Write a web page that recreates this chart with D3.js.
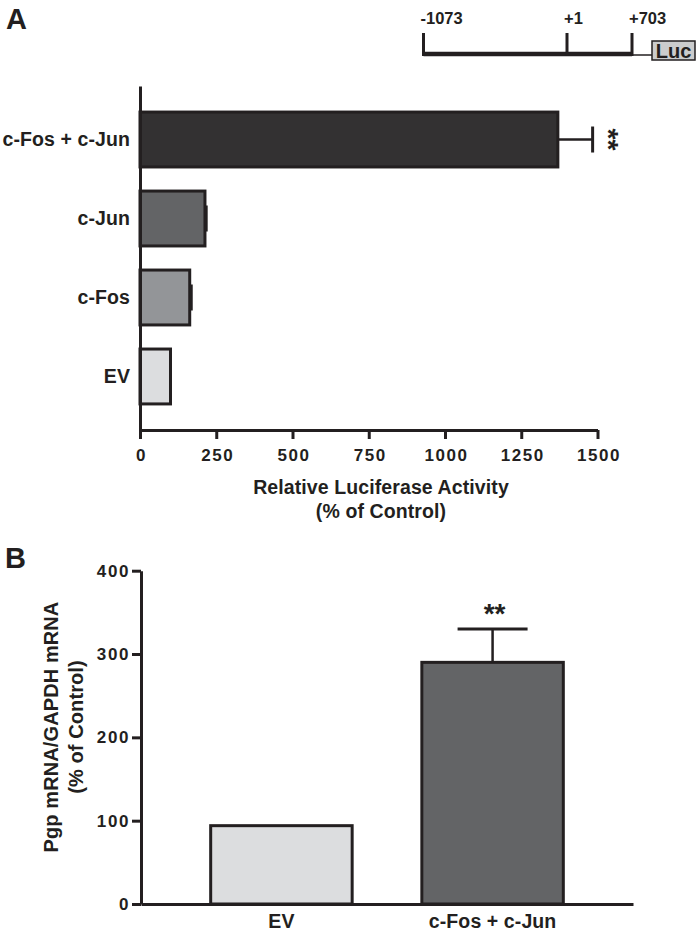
<!DOCTYPE html>
<html>
<head>
<meta charset="utf-8">
<script src="https://cdn.jsdelivr.net/npm/d3@7"></script>
<style>
  body { margin: 0; background: #fff; }
  svg text { font-family: "Liberation Sans", Arial, Helvetica, sans-serif; font-weight: bold; fill: #231f20; }
</style>
</head>
<body>
<div id="chart"></div>
<script>
// panel A data (luciferase)
var catsA = ["c-Fos + c-Jun", "c-Jun", "c-Fos", "EV"];
var valsA = [1370, 213, 163, 100];
var errsA = [114, 4, 5, 0];
var sigA = ["**", "", "", ""];
var ticksA = [0, 250, 500, 750, 1000, 1250, 1500];

// promoter construct
var siteVals = [-1073, 1, 703];
var siteLabels = ["-1073", "+1", "+703"];

// panel B data (mRNA)
var catsB = ["EV", "c-Fos + c-Jun"];
var valsB = [94, 290];
var errsB = [0, 40];
var sigB = ["", "**"];
var ticksB = [0, 100, 200, 300, 400];

var ink = "#231f20";
var fillA = d3.scaleOrdinal().domain(catsA).range(["#333132", "#636466", "#939598", "#dcdddf"]);
var fillB = d3.scaleOrdinal().domain(catsB).range(["#dcdddf", "#636466"]);

var svg = d3.select("#chart").append("svg")
  .attr("width", 697)
  .attr("height", 938);

// ---------- panel A ----------
svg.append("text").attr("x", 6).attr("y", 29).style("font-size", "29px").text("A");

var xA = d3.scaleLinear().domain([0, 1500]).range([140, 597.5]);
var yA = d3.scaleBand().domain(catsA).range([86, 430]).paddingInner(0.305).paddingOuter(0.33);

var gA = svg.append("g");

gA.selectAll("rect.barA")
  .data(catsA)
  .enter().append("rect")
  .attr("class", "barA")
  .attr("x", xA(0))
  .attr("y", d => yA(d))
  .attr("width", (d, i) => xA(valsA[i]) - xA(0))
  .attr("height", yA.bandwidth())
  .attr("fill", d => fillA(d))
  .attr("stroke", ink)
  .attr("stroke-width", 3);

// error bars
catsA.forEach(function(c, i) {
  var cy = yA(c) + yA.bandwidth() / 2;
  if (errsA[i] > 0) {
    gA.append("line")
      .attr("x1", xA(valsA[i])).attr("x2", xA(valsA[i] + errsA[i]))
      .attr("y1", cy).attr("y2", cy)
      .attr("stroke", ink).attr("stroke-width", 2.5);
    gA.append("line")
      .attr("x1", xA(valsA[i] + errsA[i])).attr("x2", xA(valsA[i] + errsA[i]))
      .attr("y1", cy - 13).attr("y2", cy + 13)
      .attr("stroke", ink).attr("stroke-width", 3);
  }
  if (sigA[i]) {
    gA.append("text")
      .attr("transform", `translate(${xA(valsA[i] + errsA[i]) + 21 - 0.52 * 28}, ${cy}) rotate(90)`)
      .attr("text-anchor", "middle")
      .style("font-size", "28px")
      .text(sigA[i]);
  }
});

// axes
var axA = gA.append("g")
  .attr("transform", "translate(0,430)")
  .call(d3.axisBottom(xA).tickValues(ticksA).tickFormat(d3.format("d"))
    .tickSize(9).tickSizeOuter(0).tickPadding(9.5));
axA.selectAll("text").style("font-size", "17px").style("letter-spacing", "1.6px").attr("dx", "1px");

var ayA = gA.append("g")
  .attr("transform", "translate(140,0)")
  .call(d3.axisLeft(yA).tickSize(0).tickSizeOuter(0).tickPadding(10));
ayA.selectAll("text").style("font-size", "19.5px").style("letter-spacing", "0.1px");

[axA, ayA].forEach(function(a) {
  a.selectAll("path, line").attr("stroke", ink).attr("stroke-width", 3);
  a.selectAll("text").attr("fill", ink);
});

gA.append("text").attr("x", 381).attr("y", 494).attr("text-anchor", "middle")
  .style("font-size", "19.5px").style("letter-spacing", "0.1px").text("Relative Luciferase Activity");
gA.append("text").attr("x", 381).attr("y", 518).attr("text-anchor", "middle")
  .style("font-size", "19.5px").style("letter-spacing", "0.1px").text("(% of Control)");

// promoter construct
var pScale = d3.scaleLinear().domain(siteVals).range([423.5, 567, 632]);
var gP = svg.append("g");
gP.append("line")
  .attr("x1", pScale(siteVals[0])).attr("x2", pScale(siteVals[2]))
  .attr("y1", 54).attr("y2", 54)
  .attr("stroke", ink).attr("stroke-width", 4.5);
gP.selectAll("line.site")
  .data(siteVals)
  .enter().append("line")
  .attr("class", "site")
  .attr("x1", d => pScale(d)).attr("x2", d => pScale(d))
  .attr("y1", 33).attr("y2", 56)
  .attr("stroke", ink).attr("stroke-width", 3);
gP.selectAll("text.site")
  .data(siteVals)
  .enter().append("text")
  .attr("class", "site")
  .attr("x", d => pScale(d) - 3)
  .attr("y", 24)
  .style("font-size", "16.5px")
  .text((d, i) => siteLabels[i]);
gP.append("line")
  .attr("x1", pScale(siteVals[2])).attr("x2", 652)
  .attr("y1", 55).attr("y2", 55)
  .attr("stroke", ink).attr("stroke-width", 1.5);
gP.append("rect")
  .attr("x", 652).attr("y", 41).attr("width", 43).attr("height", 19)
  .attr("fill", "#cbcccd").attr("stroke", ink).attr("stroke-width", 1.5);
gP.append("text").attr("x", 673.5).attr("y", 58).attr("text-anchor", "middle")
  .style("font-size", "20px").text("Luc");

// ---------- panel B ----------
svg.append("text").attr("x", 5).attr("y", 568).style("font-size", "29px").text("B");

var yB = d3.scaleLinear().domain([0, 400]).range([904, 570.7]);
var xB = d3.scaleBand().domain(catsB).range([141, 633]).paddingInner(0.33).paddingOuter(0.33);

var gB = svg.append("g");

gB.selectAll("rect.barB")
  .data(catsB)
  .enter().append("rect")
  .attr("class", "barB")
  .attr("x", d => xB(d))
  .attr("y", (d, i) => yB(valsB[i]))
  .attr("width", xB.bandwidth())
  .attr("height", (d, i) => yB(0) - yB(valsB[i]))
  .attr("fill", d => fillB(d))
  .attr("stroke", ink)
  .attr("stroke-width", 3);

catsB.forEach(function(c, i) {
  var cx = xB(c) + xB.bandwidth() / 2;
  if (errsB[i] > 0) {
    gB.append("line")
      .attr("x1", cx).attr("x2", cx)
      .attr("y1", yB(valsB[i])).attr("y2", yB(valsB[i] + errsB[i]))
      .attr("stroke", ink).attr("stroke-width", 2.5);
    gB.append("line")
      .attr("x1", cx - 35).attr("x2", cx + 35)
      .attr("y1", yB(valsB[i] + errsB[i])).attr("y2", yB(valsB[i] + errsB[i]))
      .attr("stroke", ink).attr("stroke-width", 3);
  }
  if (sigB[i]) {
    gB.append("text")
      .attr("x", cx + 2).attr("y", yB(valsB[i] + errsB[i]) - 21 + 0.52 * 28)
      .attr("text-anchor", "middle")
      .style("font-size", "28px")
      .text(sigB[i]);
  }
});

var ayB = gB.append("g")
  .attr("transform", "translate(141,0)")
  .call(d3.axisLeft(yB).tickValues(ticksB).tickSize(9).tickSizeOuter(0).tickPadding(2));
ayB.selectAll("text").style("font-size", "17px").style("letter-spacing", "1.6px");

var axB = gB.append("g")
  .attr("transform", "translate(0,904)")
  .call(d3.axisBottom(xB).tickSize(0).tickSizeOuter(0).tickPadding(10.5));
axB.selectAll("text").style("font-size", "19.5px").style("letter-spacing", "0.1px");

[axB, ayB].forEach(function(a) {
  a.selectAll("path, line").attr("stroke", ink).attr("stroke-width", 3);
  a.selectAll("text").attr("fill", ink);
});

var tB = gB.append("g").attr("transform", "translate(58,727) rotate(-90)");
tB.append("text").attr("x", 0).attr("y", 0).attr("text-anchor", "middle")
  .style("font-size", "20px").style("letter-spacing", "0.1px").text("Pgp mRNA/GAPDH mRNA");
tB.append("text").attr("x", 0).attr("y", 24.5).attr("text-anchor", "middle")
  .style("font-size", "20px").style("letter-spacing", "0.1px").text("(% of Control)");
</script>
</body>
</html>
